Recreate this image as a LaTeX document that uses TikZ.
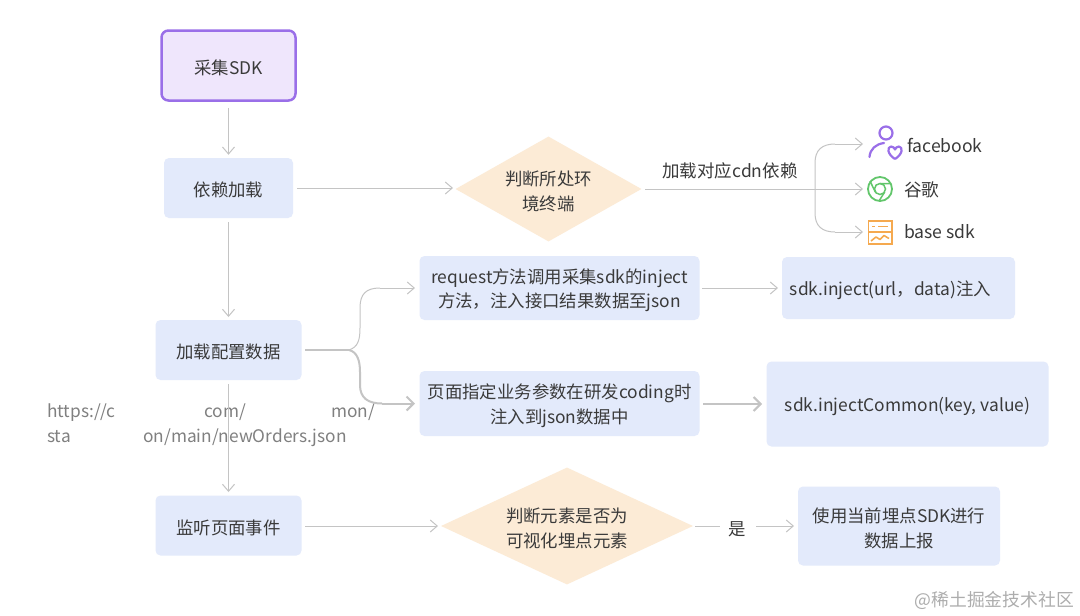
\documentclass[tikz,border=0pt]{standalone}
\usepackage{fontspec}
\setmainfont{Noto Sans CJK SC}
\usetikzlibrary{shapes.geometric,arrows.meta}
\definecolor{bluebox}{HTML}{E3EAFB}
\definecolor{peach}{HTML}{FCEBD6}
\definecolor{lineg}{HTML}{C4C4C4}
\definecolor{txt}{HTML}{3A3A3A}
\definecolor{purp}{HTML}{9A6FE8}
\definecolor{purpf}{HTML}{EFE6FC}
\definecolor{grn}{HTML}{62C66B}
\definecolor{org}{HTML}{F5A94F}
\newcommand{\nd}[1]{\raisebox{-2.4pt}[\height][\depth]{#1}}
\tikzset{
  x=1pt,y=-1pt,
  every node/.style={font=\fontsize{17.4}{24.5}\selectfont,text=txt,align=center},
  bbox/.style={fill=bluebox,rounded corners=5pt,inner sep=0pt},
  dia/.style={diamond,fill=peach,inner sep=0pt,aspect=1.8},
  conn/.style={draw=lineg,line width=1pt,-{Straight Barb[length=7pt,width=12pt,line width=1pt]}},
  thick conn/.style={draw=lineg,line width=2pt,-{Straight Barb[length=7pt,width=14pt,line width=2pt]}},
  urlt/.style={font=\fontsize{17.3}{20}\selectfont,text=black!50,anchor=base west,inner sep=0pt},
  lab/.style={inner sep=0pt,anchor=west},
}
\begin{document}
\begin{tikzpicture}
\useasboundingbox (0,0) rectangle (1080,616);
\fill[white] (0,0) rectangle (1080,616);

% nodes
\node[draw=purp,fill=purpf,line width=2.5pt,rounded corners=7pt,minimum width=134pt,minimum height=70pt,inner sep=0pt] (sdk) at (228.5,65.5) {\nd{采集SDK}};
\node[bbox,minimum width=129pt,minimum height=60pt] (dep) at (228.5,188) {\nd{依赖加载}};
\node[bbox,minimum width=146pt,minimum height=60pt] (cfg) at (228.5,350) {\nd{加载配置数据}};
\node[bbox,minimum width=146pt,minimum height=60pt] (lis) at (228.5,525.5) {\nd{监听页面事件}};

\node[dia,minimum width=186pt,minimum height=105pt] (d1) at (548.5,189) {\nd{判断所处环}\\\nd{境终端}};
\node[dia,minimum width=252pt,minimum height=117pt] (d2) at (567,526) {\nd{判断元素是否为}\\\nd{可视化埋点元素}};

\node[bbox,minimum width=280pt,minimum height=64pt] (r1) at (559.5,288) {\nd{request方法调用采集sdk的inject}\\\nd{方法，注入接口结果数据至json}};
\node[bbox,minimum width=280pt,minimum height=65pt] (r2) at (559.5,403.5) {\nd{页面指定业务参数在研发coding时}\\\nd{注入到json数据中}};
\node[bbox,minimum width=233pt,minimum height=62pt] (i1) at (898.5,288) {\nd{sdk.inject(url，data)注入}\hspace*{16pt}};
\node[bbox,minimum width=282pt,minimum height=85pt] (i2) at (907.5,404) {\nd{sdk.injectCommon(key, value)}};
\node[bbox,minimum width=202pt,minimum height=79pt] (up) at (899,526) {\nd{使用当前埋点SDK进行}\\\nd{数据上报}};

% targets on the right
\coordinate (t1) at (863,144);
\coordinate (t2) at (863,189);
\coordinate (t3) at (863,232);
\coordinate (j1) at (305,350);
\node[lab] (fb) at (907,145) {\fontsize{17.6}{22}\selectfont facebook};
\node[lab] (gg) at (904,189.5) {\fontsize{17.6}{22}\selectfont 谷歌};
\node[lab] (bs) at (904,232) {\fontsize{17.6}{22}\selectfont base sdk};
\node[inner sep=0pt] (cdn) at (730,171) {\fontsize{17.5}{20}\selectfont 加载对应cdn依赖};
\node[inner sep=1pt] (yes) at (737,527) {\nd{是}};

% URL text (pieces around the blurred parts)
\node[urlt] (u1) at (47,417) {https://c};
\node[urlt] (u2) at (204,417) {com/};
\node[urlt] (u3) at (331,417) {mon/};
\node[urlt] (u4) at (47,442) {sta};
\node[urlt] (u5) at (143,442) {on/main/newOrders.json};

% connectors
\draw[conn] (sdk.south) ++(0,6) -- ++(0,47);
\draw[conn] (228.5,222) -- (228.5,317);
\draw[conn] (228.5,384) -- (228.5,492);
\draw[conn] (297,188) -- (453,188);
\draw[conn] (645,189) -- (t2);
\draw[draw=lineg,line width=1pt] (815,189) -- (815,163) .. controls (815,150) and (822,144) .. (835,144);
\draw[conn] (835,144) -- (t1);
\draw[draw=lineg,line width=1pt] (815,189) -- (815,213) .. controls (815,226) and (822,232) .. (835,232);
\draw[conn] (835,232) -- (t3);

\draw[draw=lineg,line width=2pt] (j1) -- (349,350);
\draw[draw=lineg,line width=1pt] (349,350) .. controls (358,347) and (360,340) .. (360,328) -- (360,308) .. controls (360,294) and (366,288) .. (380,288);
\draw[conn] (380,288) -- (415,288);
\draw[draw=lineg,line width=2pt] (349,350) .. controls (357,352) and (360,360) .. (360,372) -- (360,385) .. controls (360,398) and (368,403.5) .. (382,403.5);
\draw[thick conn] (382,403.5) -- (415,403.5);

\draw[conn] (702,288) -- (778,288);
\draw[thick conn] (703,404) -- (762,404);
\draw[conn] (305,526) -- (438,526);
\draw[draw=lineg,line width=1pt] (695,526) -- (720,526);
\draw[conn] (756,526) -- (794,526);

% icons
\draw[purp,line width=2.2pt] (886,133) circle (6.5pt);
\draw[purp,line width=2.2pt,line cap=round] (869.5,157) .. controls (870,149) and (876,144) .. (884,143);
\draw[purp,line width=2.2pt,line join=round] (895,159) .. controls (887,154) and (887,147) .. (891,146.5) .. controls (893,146.5) and (894.6,148) .. (895,149.5) .. controls (895.4,148) and (897,146.5) .. (899,146.5) .. controls (903,147) and (903,154) .. (895,159);
\draw[grn,line width=1.8pt] (880,189) circle (12pt);
\draw[grn,line width=1.5pt] (880,189) circle (5.5pt);
\draw[grn,line width=1.5pt] (880,183.5) -- (891,183.5) (875.3,192) -- (870,181) (884.7,192) -- (879,201);
\draw[org,line width=1.9pt] (868.5,221) rectangle (892,244);
\draw[org,line width=1.6pt] (868.5,232) -- (892,232);
\draw[org,line width=1.4pt] (872,226.5) -- (875,226.5) (878,226.5) -- (888,226.5);
\draw[org,line width=1.6pt,line join=round] (871,241) -- (876,237) -- (880,239.5) -- (884,235.5) -- (889,238.5);

% watermark
\node[inner sep=0pt,anchor=east] (wm) at (1074,600) {\fontsize{17.8}{20}\selectfont\color{black!32}@稀土掘金技术社区};
\end{tikzpicture}
\end{document}
